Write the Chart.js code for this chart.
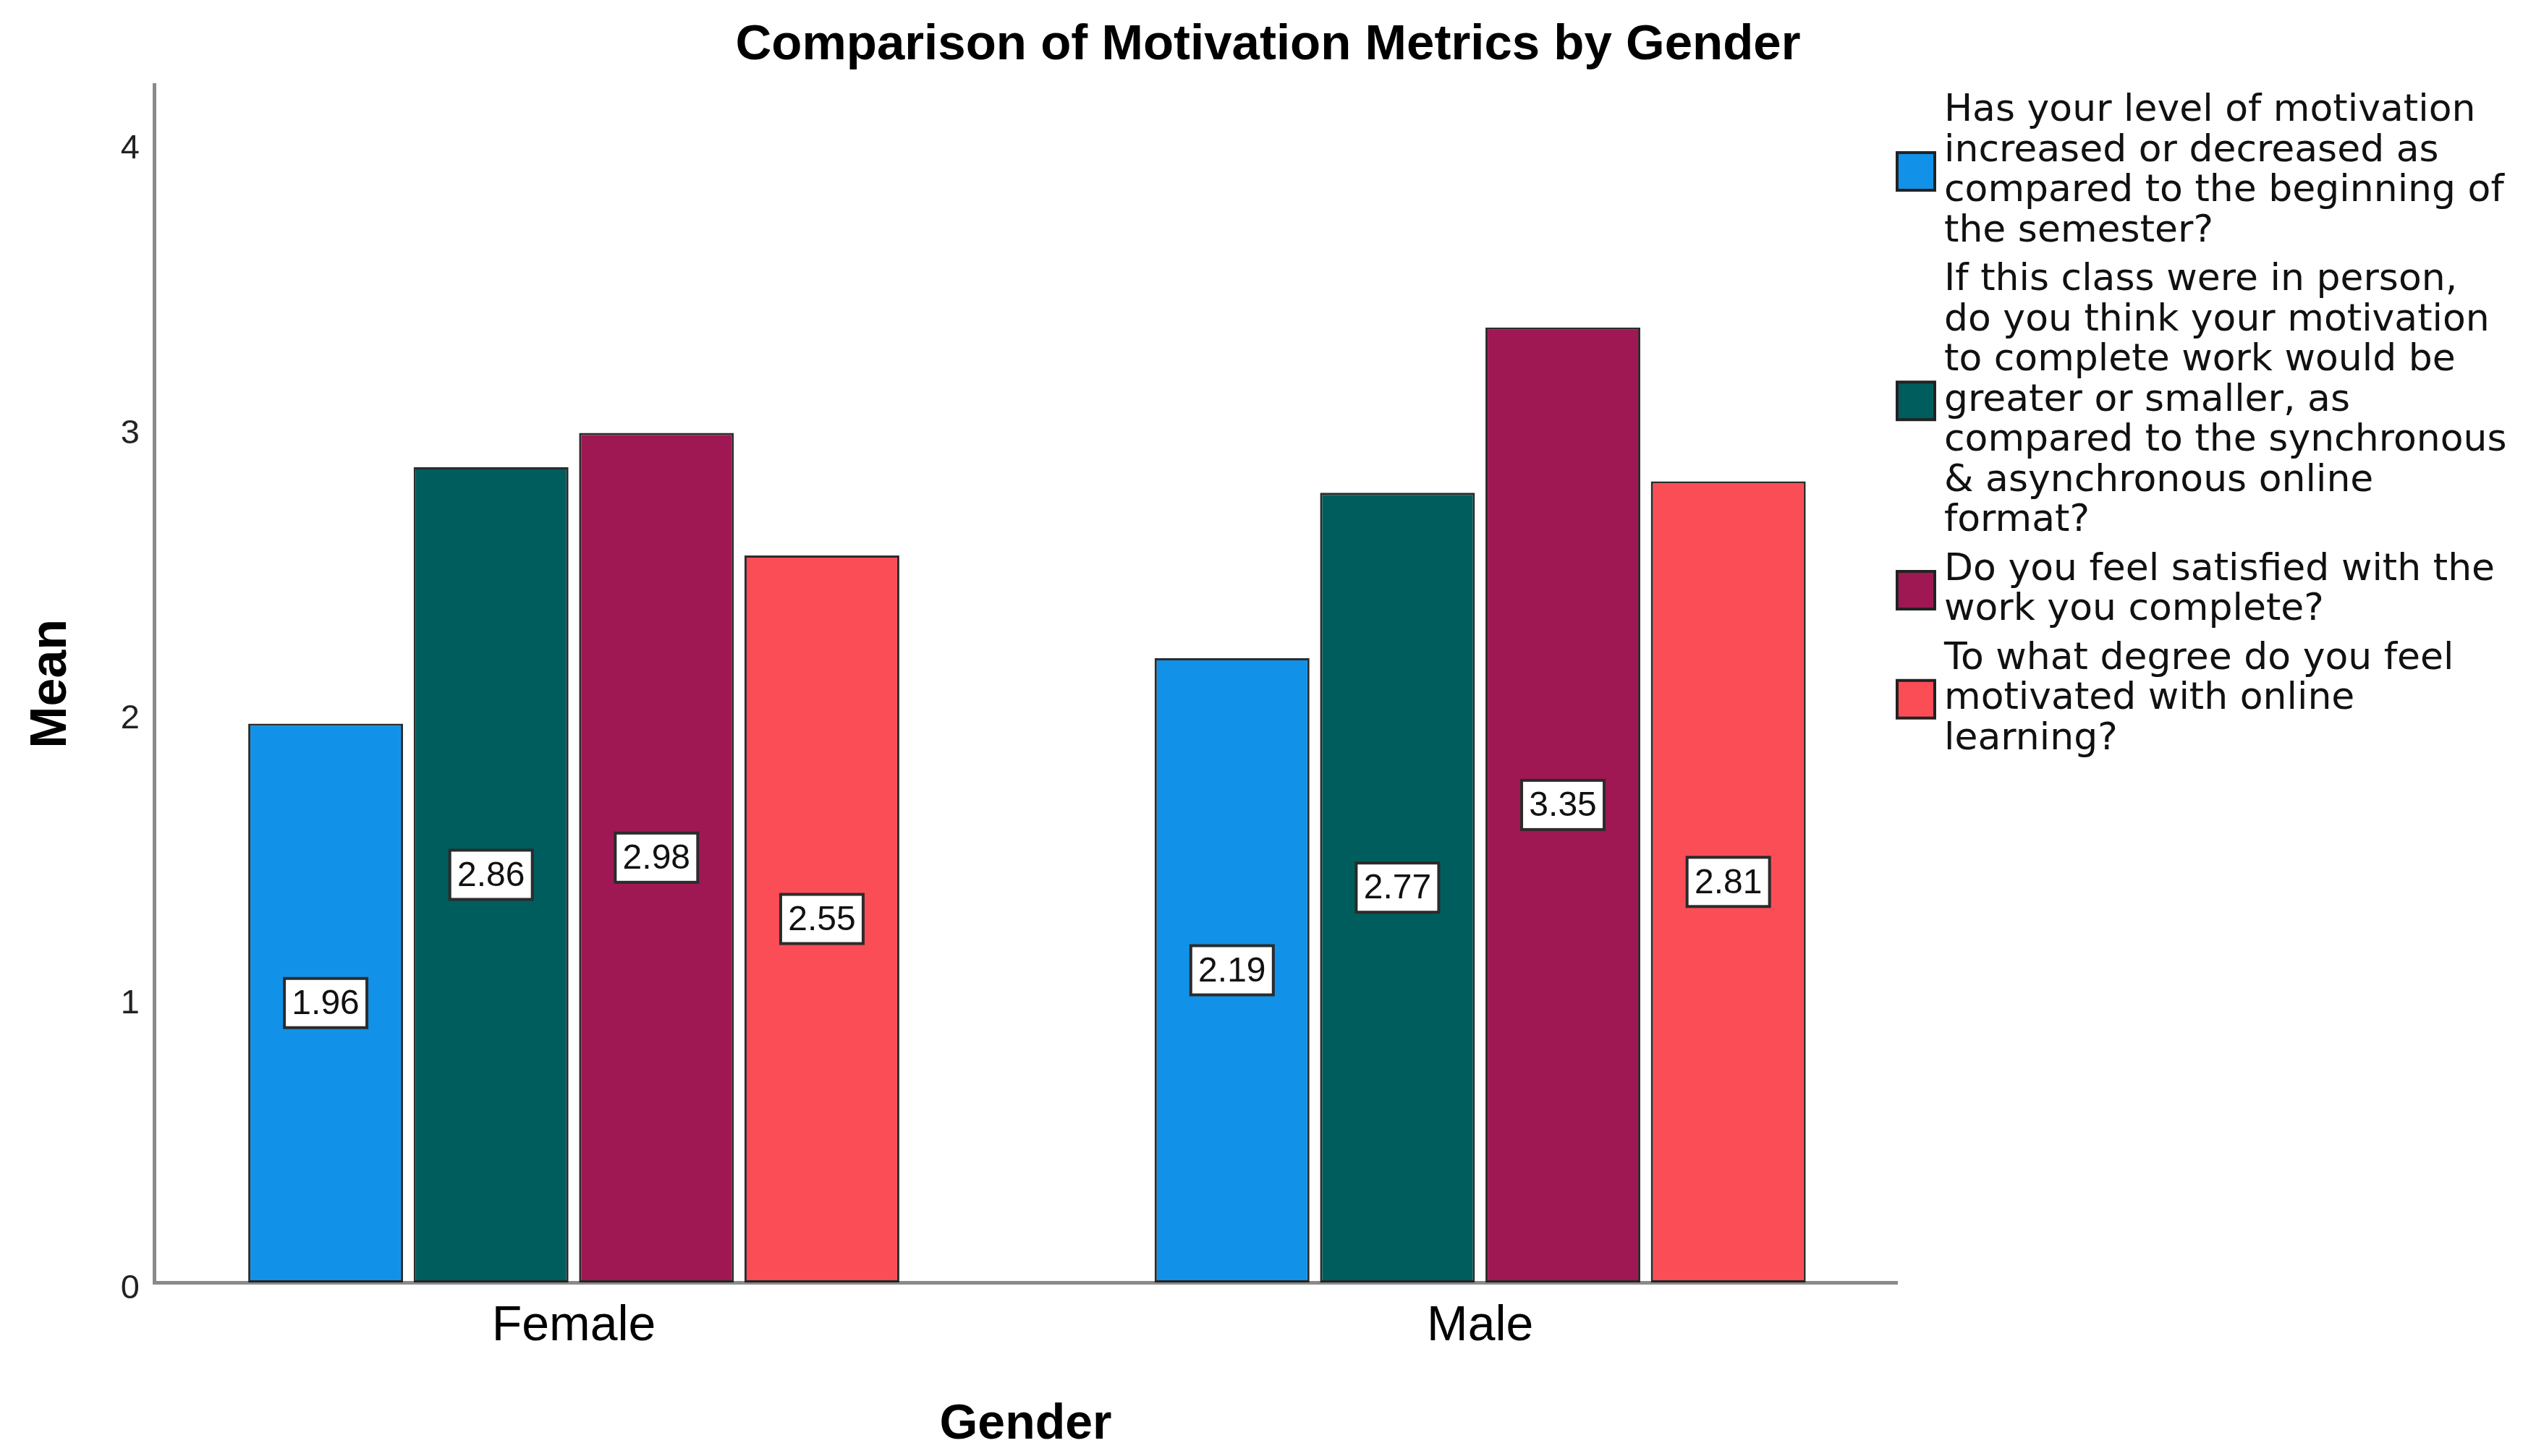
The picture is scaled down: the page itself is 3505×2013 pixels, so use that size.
<!DOCTYPE html>
<html>
<head>
<meta charset="utf-8">
<script src="https://cdn.jsdelivr.net/npm/chart.js@4.4.1/dist/chart.umd.min.js"></script>
<style>
  html, body { margin: 0; padding: 0; background: #fff; }
  #wrap { width: 3505px; height: 2013px; }
</style>
</head>
<body>
<div id="wrap"><canvas id="grafico"></canvas></div>
<script>
// ---- data ----
var generos = ['Female', 'Male'];
var serieNombres = [
  ['Has your level of motivation', 'increased or decreased as', 'compared to the beginning of', 'the semester?'],
  ['If this class were in person,', 'do you think your motivation', 'to complete work would be', 'greater or smaller, as', 'compared to the synchronous', '& asynchronous online', 'format?'],
  ['Do you feel satisfied with the', 'work you complete?'],
  ['To what degree do you feel', 'motivated with online', 'learning?']
];
var nivelMotivacion = [1.96, 2.19];
var enPersona = [2.86, 2.77];
var satisfecho = [2.98, 3.35];
var motivadoOnline = [2.55, 2.81];
var yTicks = [0, 1, 2, 3, 4];

var colores = ['#1192e8', '#005d5d', '#9f1853', '#fa4d56'];
var series = [nivelMotivacion, enPersona, satisfecho, motivadoOnline];

var fuente = "'Liberation Sans', Arial, sans-serif";
var fuenteLeyenda = "'DejaVu Sans', Verdana, sans-serif";

/* ------------------ etiquetas dentro de las barras ------------------ */
var etiquetasBarras = {
  id: 'etiquetasBarras',
  afterDatasetsDraw: function(chart) {
    var ctx = chart.ctx;
    ctx.save();
    ctx.font = '48px ' + fuente;
    ctx.textAlign = 'center';
    ctx.textBaseline = 'middle';
    chart.data.datasets.forEach(function(ds, i) {
      var meta = chart.getDatasetMeta(i);
      meta.data.forEach(function(bar, j) {
        var cx = bar.x;
        var cy = (bar.y + bar.base) / 2;
        var w = 114, h = 68;
        ctx.fillStyle = '#ffffff';
        ctx.fillRect(cx - w / 2, cy - h / 2, w, h);
        ctx.lineWidth = 4;
        ctx.strokeStyle = '#2b2b2b';
        ctx.strokeRect(cx - w / 2, cy - h / 2, w, h);
        ctx.fillStyle = '#111';
        ctx.fillText(ds.data[j].y.toFixed(2), cx, cy + 2);
      });
    });
    ctx.restore();
  }
};

/* ------------------ leyenda a la derecha ------------------ */
var leyendaLateral = {
  id: 'leyendaLateral',
  afterDraw: function(chart) {
    var ctx = chart.ctx;
    var lineH = 55.5, gap = 12;
    var y = 126;
    ctx.save();
    ctx.font = '52px ' + fuenteLeyenda;
    ctx.textAlign = 'left';
    ctx.textBaseline = 'middle';
    chart.data.datasets.forEach(function(ds, i) {
      var lineas = serieNombres[i];
      var alto = lineas.length * lineH;
      var by = y + alto / 2 - 26;
      ctx.fillStyle = ds.backgroundColor;
      ctx.fillRect(2622, by, 52, 52);
      ctx.lineWidth = 4;
      ctx.strokeStyle = '#222';
      ctx.strokeRect(2622, by, 52, 52);
      ctx.fillStyle = '#111';
      lineas.forEach(function(t, k) {
        ctx.fillText(t, 2687, y + k * lineH + lineH / 2);
      });
      y += alto + gap;
    });
    ctx.restore();
  }
};

var ctx = document.getElementById('grafico').getContext('2d');
var grafico = new Chart(ctx, {
  type: 'bar',
  data: {
    datasets: series.map(function(valores, i) {
      return {
        label: serieNombres[i].join(' '),
        // x = indice del genero
        data: valores.map(function(v, k) { return { x: k, y: v }; }),
        backgroundColor: colores[i],
        borderColor: 'rgba(20,20,20,0.9)',
        borderWidth: 3,
        borderSkipped: false,
        categoryPercentage: 0.73,
        barPercentage: 0.936
      };
    })
  },
  options: {
    responsive: true,
    maintainAspectRatio: false,
    animation: false,
    devicePixelRatio: 1,
    layout: { padding: 0 },
    plugins: {
      legend: { display: false },
      tooltip: { enabled: false },
      title: {
        display: true,
        text: 'Comparison of Motivation Metrics by Gender',
        color: '#000',
        font: { family: fuente, size: 69, weight: 'bold', lineHeight: 1.2 },
        padding: { top: 22, bottom: 13 }
      }
    },
    scales: {
      x: {
        type: 'linear',
        offset: false,
        min: -0.463,
        max: 1.46,
        afterBuildTicks: function(scale) {
          scale.ticks = generos.map(function(g, k) { return { value: k }; });
        },
        grid: { display: false, drawTicks: false, offset: false },
        border: { display: true, color: '#8a8a8a', width: 5 },
        ticks: {
          color: '#000', font: { family: fuente, size: 68 }, padding: 20,
          callback: function(v) { return generos[v]; }
        },
        title: {
          display: true, text: 'Gender', color: '#000',
          font: { family: fuente, size: 68, weight: 'bold', lineHeight: 1.2 },
          padding: { top: 10, bottom: 2 }
        },
        afterFit: function(scale) { scale.height = 240; }
      },
      y: {
        min: 0,
        max: 4.2,
        afterBuildTicks: function(scale) {
          scale.ticks = yTicks.map(function(v) { return { value: v }; });
        },
        grid: { display: false, drawTicks: false },
        border: { display: true, color: '#8a8a8a', width: 5 },
        ticks: { color: '#222', font: { family: fuente, size: 47 }, padding: 20, labelOffset: 9 },
        title: {
          display: true, text: 'Mean', color: '#000',
          font: { family: fuente, size: 70, weight: 'bold', lineHeight: 1.2 },
          padding: { top: 30, bottom: 0 }
        },
        afterFit: function(scale) { scale.width = 213; }
      },
      // espacio reservado para la leyenda (sin dibujar nada)
      espacioLeyenda: {
        type: 'linear',
        position: 'right',
        display: true,
        grid: { display: false, drawTicks: false },
        border: { display: false },
        ticks: { display: false },
        afterFit: function(scale) { scale.width = 883; }
      }
    }
  },
  plugins: [etiquetasBarras, leyendaLateral]
});
</script>
</body>
</html>
